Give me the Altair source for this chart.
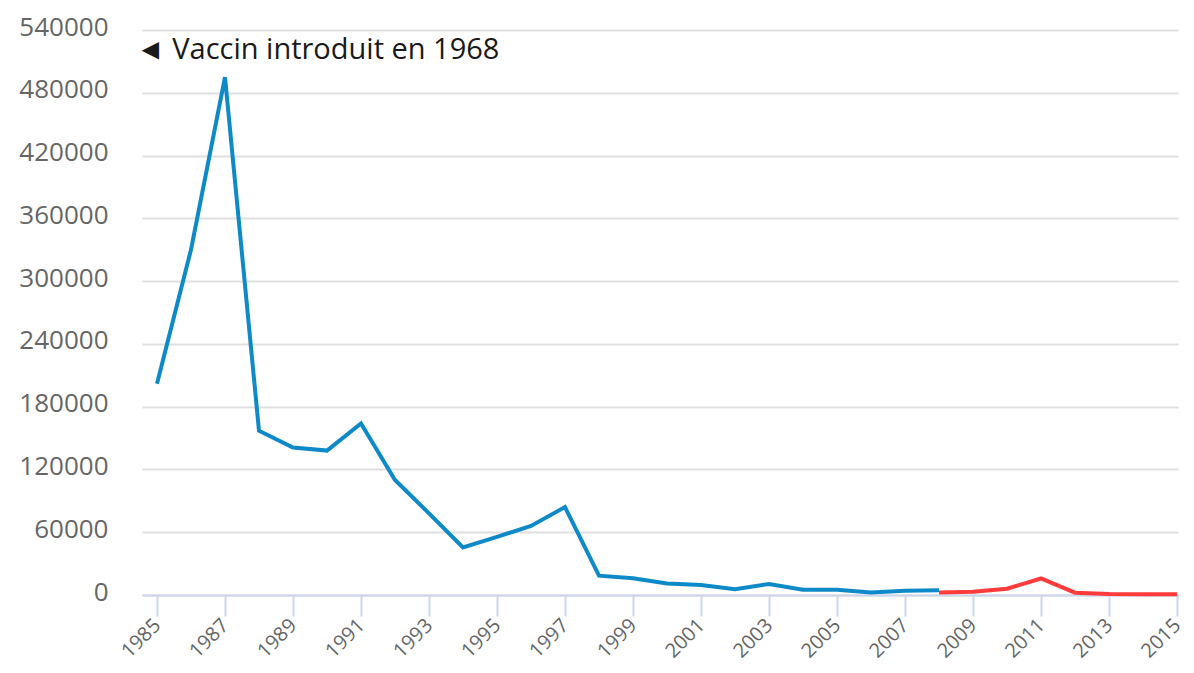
import altair as alt
import pandas as pd

years_blue = list(range(1985, 2009))
cases_blue = [202000, 330000, 495000, 157000, 141000, 138000, 164000, 110000,
              78000, 45500, 55500, 66000, 84000, 18500, 16000, 11000, 9500,
              5500, 10500, 5000, 5000, 2500, 4000, 4500]
years_red = list(range(2008, 2016))
cases_red = [2500, 3000, 6000, 15800, 2200, 1000, 700, 600]

y_ticks = list(range(0, 540001, 60000))
x_ticks = list(range(1985, 2016, 2))
annotation = "◄ Vaccin introduit en 1968"

df = pd.concat([
    pd.DataFrame({"year": years_blue, "cases": cases_blue, "series": "avant"}),
    pd.DataFrame({"year": years_red, "cases": cases_red, "series": "après"}),
])

font = "Open Sans"

line = alt.Chart(df).mark_line(strokeWidth=4, strokeJoin="miter").encode(
    x=alt.X("year:Q",
            scale=alt.Scale(domain=[1984.559, 2015.03], nice=False, zero=False),
            axis=alt.Axis(values=x_ticks, format="d", labelAngle=-45,
                          labelAlign="right", labelBaseline="middle",
                          labelFontSize=20, labelColor="#666666", labelFont=font,
                          tickSize=21, tickColor="#ccd6eb", tickWidth=2,
                          domainColor="#ccd6eb", domainWidth=2, grid=False,
                          labelPadding=6, labelOffset=0, labelOverlap=False,
                          labelBound=False, labelFlush=False, title=None)),
    y=alt.Y("cases:Q",
            scale=alt.Scale(domain=[0, 540000], nice=False),
            axis=alt.Axis(values=y_ticks, format="d", labelFontSize=26,
                          labelColor="#666666", labelFont=font, ticks=False,
                          domain=False, gridColor="#e0e0e0", gridWidth=2,
                          labelPadding=34, labelOffset=-3, title=None)),
    color=alt.Color("series:N",
                    scale=alt.Scale(domain=["avant", "après"],
                                    range=["#0e8ac8", "#ff3b3b"]),
                    legend=None),
    detail="series:N",
)

text = alt.Chart(pd.DataFrame({"t": [annotation]})).mark_text(
    align="left", baseline="middle", fontSize=29, font=font, color="#1a1a1a"
).encode(x=alt.value(-6), y=alt.value(20), text="t:N")

chart = alt.layer(line, text).properties(
    width=1036, height=565,
    padding={"left": 134, "top": 22, "right": 8, "bottom": 70},
    autosize=alt.AutoSizeParams(type="none"),
).configure(background="white", view=alt.ViewConfig(stroke=None))

chart.save("out.html", embed_options={"renderer": "svg", "actions": False})
